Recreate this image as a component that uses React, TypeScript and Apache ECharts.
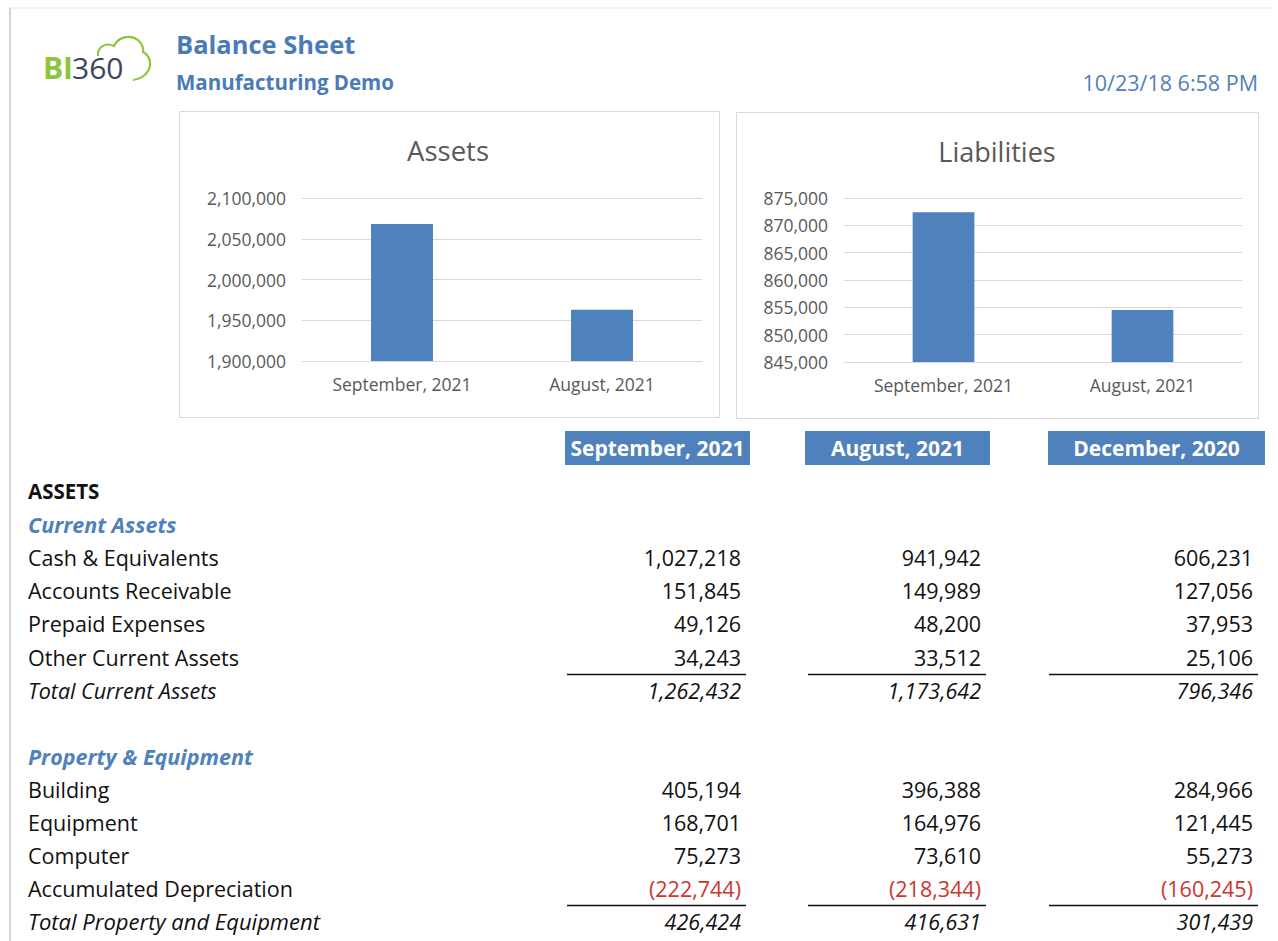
import React, { useEffect, useRef } from "react";
import * as echarts from "echarts";

// ---- Data ----
const chartCategories = ["September, 2021", "August, 2021"];
const assetsTotals = [2068000, 1963000];
const liabilitiesTotals = [872400, 854500];
const assetsTicks = { min: 1900000, max: 2100000, interval: 50000 };
const liabilitiesTicks = { min: 845000, max: 875000, interval: 5000 };

const columnHeaders = ["September, 2021", "August, 2021", "December, 2020"];

const currentAssetsLabels = [
  "Cash & Equivalents",
  "Accounts Receivable",
  "Prepaid Expenses",
  "Other Current Assets",
];
const cashEquivalents = [1027218, 941942, 606231];
const accountsReceivable = [151845, 149989, 127056];
const prepaidExpenses = [49126, 48200, 37953];
const otherCurrentAssets = [34243, 33512, 25106];
const totalCurrentAssets = [1262432, 1173642, 796346];

const propertyLabels = ["Building", "Equipment", "Computer", "Accumulated Depreciation"];
const building = [405194, 396388, 284966];
const equipment = [168701, 164976, 121445];
const computer = [75273, 73610, 55273];
const accumulatedDepreciation = [-222744, -218344, -160245];
const totalProperty = [426424, 416631, 301439];

// ---- Styles ----
const BLUE = "#4f81bd";
const TITLE_BLUE = "#4a7ab8";
const FONT = "'Open Sans', 'Noto Sans', sans-serif";
const BODY = 21.5;
const fmt = (n: number) =>
  n < 0 ? "(" + Math.abs(n).toLocaleString("en-US") + ")" : n.toLocaleString("en-US");

const numRight = [741, 981, 1253];
const headerBoxes = [
  { x: 565, w: 185 },
  { x: 805, w: 185 },
  { x: 1048, w: 217 },
];
const underlineSpans = [
  [567, 746],
  [808, 986],
  [1049, 1258],
];

function txt(text: string, x: number, y: number, opts: any = {}) {
  return {
    type: "text",
    x,
    y,
    silent: true,
    style: {
      text,
      fill: opts.fill || "#111111",
      fontFamily: opts.fontFamily || FONT,
      fontSize: opts.fontSize || BODY,
      fontWeight: opts.fontWeight || "normal",
      fontStyle: opts.fontStyle || "normal",
      textAlign: opts.align || "left",
      textVerticalAlign: "middle",
    },
  };
}

function buildGraphics() {
  const g: any[] = [];
  // page borders
  g.push({ type: "line", shape: { x1: 10, y1: 8, x2: 1272, y2: 8 }, style: { stroke: "#e4e4e4", lineWidth: 1 } });
  g.push({ type: "line", shape: { x1: 10, y1: 8, x2: 10, y2: 941 }, style: { stroke: "#d4d4d4", lineWidth: 2 } });

  // logo
  g.push(txt("BI", 73, 67, { fill: "#8cc63f", fontSize: 30, fontWeight: "bold", align: "right" }));
  g.push(txt("360", 72, 67, { fill: "#3b4658", fontSize: 30 }));
  g.push({
    type: "cloudLogo",
    x: 0,
    y: 0,
    silent: true,
    style: { fill: "none", stroke: "#8cc63f", lineWidth: 2.2 },
  });

  // titles
  g.push(txt("Balance Sheet", 176, 44, { fill: TITLE_BLUE, fontSize: 25.5, fontWeight: "bold" }));
  g.push(txt("Manufacturing Demo", 176, 82, { fill: TITLE_BLUE, fontSize: 20.5, fontWeight: "bold" }));
  g.push(txt("10/23/18 6:58 PM", 1258, 82, { fill: BLUE, fontSize: 21.5, align: "right" }));

  // chart boxes
  g.push({ type: "rect", z: -1, shape: { x: 179.5, y: 111.5, width: 540, height: 306 }, style: { fill: "#ffffff", stroke: "#d9d9d9", lineWidth: 1 } });
  g.push({ type: "rect", z: -1, shape: { x: 736.5, y: 112.5, width: 522, height: 306 }, style: { fill: "#ffffff", stroke: "#d9d9d9", lineWidth: 1 } });
  g.push(txt("Assets", 448, 150, { fill: "#595959", fontSize: 27.5, align: "center" }));
  g.push(txt("Liabilities", 997, 151, { fill: "#595959", fontSize: 27, align: "center" }));

  // column headers
  columnHeaders.forEach((h, i) => {
    const b = headerBoxes[i];
    g.push({ type: "rect", shape: { x: b.x, y: 431, width: b.w, height: 34 }, style: { fill: BLUE } });
    g.push(txt(h, b.x + b.w / 2, 448, { fill: "#ffffff", fontSize: 21, fontWeight: "bold", align: "center" }));
  });

  // table
  const rowH = 33.2;
  const y0 = 491;
  const rowY = (i: number) => y0 + i * rowH;
  g.push(txt("ASSETS", 28, rowY(0), { fontWeight: "bold", fontSize: 20.5 }));
  g.push(txt("Current Assets", 28, rowY(1), { fill: BLUE, fontWeight: "bold", fontStyle: "italic", fontSize: 21.5 }));

  const currentRows = [cashEquivalents, accountsReceivable, prepaidExpenses, otherCurrentAssets];
  currentRows.forEach((vals, r) => {
    g.push(txt(currentAssetsLabels[r], 28, rowY(2 + r)));
    vals.forEach((v, c) => g.push(txt(fmt(v), numRight[c], rowY(2 + r), { align: "right", fill: v < 0 ? "#c0392b" : "#111111" })));
  });
  g.push(txt("Total Current Assets", 28, rowY(6), { fontStyle: "italic" }));
  totalCurrentAssets.forEach((v, c) => g.push(txt(fmt(v), numRight[c], rowY(6), { align: "right", fontStyle: "italic" })));
  underlineSpans.forEach(([a, b]) =>
    g.push({ type: "line", shape: { x1: a, y1: 674.5, x2: b, y2: 674.5 }, style: { stroke: "#111111", lineWidth: 1.5 } })
  );

  const py0 = 756;
  const pY = (i: number) => py0 + i * 33;
  g.push(txt("Property & Equipment", 28, pY(0), { fill: BLUE, fontWeight: "bold", fontStyle: "italic", fontSize: 21.5 }));
  const propRows = [building, equipment, computer, accumulatedDepreciation];
  propRows.forEach((vals, r) => {
    g.push(txt(propertyLabels[r], 28, pY(1 + r)));
    vals.forEach((v, c) => g.push(txt(fmt(v), numRight[c], pY(1 + r), { align: "right", fill: v < 0 ? "#d0342c" : "#111111" })));
  });
  g.push(txt("Total Property and Equipment", 28, pY(5), { fontStyle: "italic", fontSize: 22 }));
  totalProperty.forEach((v, c) => g.push(txt(fmt(v), numRight[c], pY(5), { align: "right", fontStyle: "italic" })));
  underlineSpans.forEach(([a, b]) =>
    g.push({ type: "line", shape: { x1: a, y1: 905.5, x2: b, y2: 905.5 }, style: { stroke: "#111111", lineWidth: 1.5 } })
  );
  return g;
}

const axisLabelStyle = { color: "#595959", fontSize: 17.5, fontFamily: FONT };

export default function App() {
  const ref = useRef<HTMLDivElement>(null);
  useEffect(() => {
    if (!ref.current) return;
    echarts.graphic.registerShape(
      "cloudLogo",
      echarts.graphic.extendPath(
        "M98 56 C97 47 106 42 114 46 C118 37 130 34 138 40 C142 44 144 48 143 52 C150 55 152 65 148 71 C145 76 140 79 133 80",
        {}
      )
    );
    const chart = echarts.init(ref.current, undefined, { renderer: "svg" });
    chart.setOption({
      animation: false,
      backgroundColor: "#ffffff",
      grid: [
        { left: 302, top: 198, width: 400, height: 163 },
        { left: 844, top: 198, width: 398, height: 164 },
      ],
      xAxis: [
        {
          type: "category",
          gridIndex: 0,
          data: chartCategories,
          axisLine: { show: false },
          axisTick: { show: false },
          axisLabel: { ...axisLabelStyle, margin: 14 },
        },
        {
          type: "category",
          gridIndex: 1,
          data: chartCategories,
          axisLine: { show: false },
          axisTick: { show: false },
          axisLabel: { ...axisLabelStyle, margin: 14 },
        },
      ],
      yAxis: [
        {
          type: "value",
          gridIndex: 0,
          ...assetsTicks,
          axisLine: { show: false },
          axisTick: { show: false },
          splitLine: { lineStyle: { color: "#d9d9d9", width: 1 } },
          axisLabel: { ...axisLabelStyle, margin: 16, formatter: (v: number) => v.toLocaleString("en-US") },
        },
        {
          type: "value",
          gridIndex: 1,
          ...liabilitiesTicks,
          axisLine: { show: false },
          axisTick: { show: false },
          splitLine: { lineStyle: { color: "#d9d9d9", width: 1 } },
          axisLabel: { ...axisLabelStyle, margin: 16, formatter: (v: number) => v.toLocaleString("en-US") },
        },
      ],
      series: [
        {
          type: "bar",
          xAxisIndex: 0,
          yAxisIndex: 0,
          data: assetsTotals,
          barWidth: "31%",
          itemStyle: { color: BLUE },
        },
        {
          type: "bar",
          xAxisIndex: 1,
          yAxisIndex: 1,
          data: liabilitiesTotals,
          barWidth: "31%",
          itemStyle: { color: BLUE },
        },
      ],
      graphic: buildGraphics(),
    });
    return () => chart.dispose();
  }, []);
  return (
    <div
      ref={ref}
      style={{ position: "absolute", left: 0, top: 0, width: 1278, height: 941, background: "#fff" }}
    />
  );
}
